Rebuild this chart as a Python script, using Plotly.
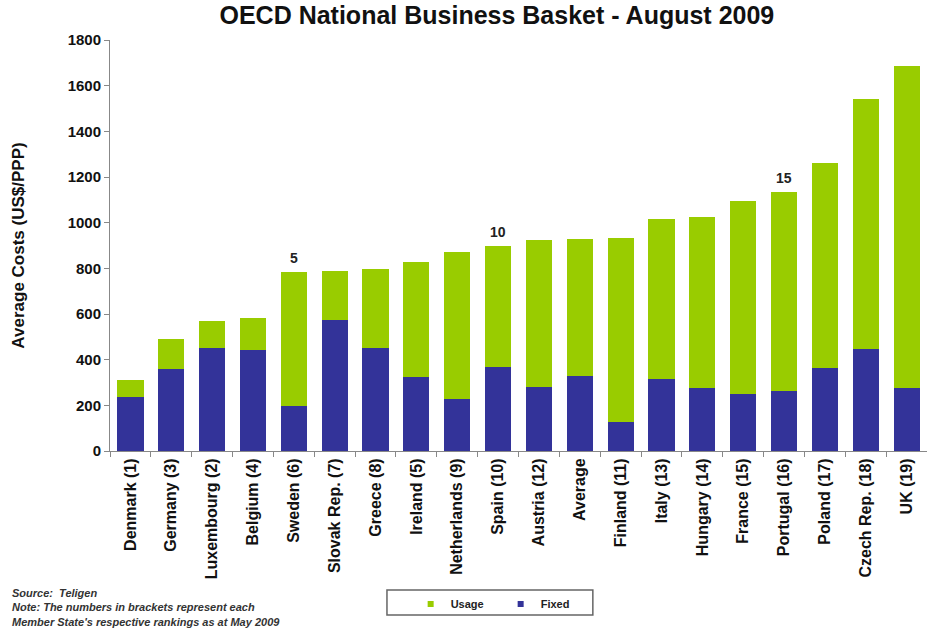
import plotly.graph_objects as go

# Country labels (ranking as at May 2009 in brackets)
countries = [
    "Denmark (1)", "Germany (3)", "Luxembourg (2)", "Belgium (4)", "Sweden (6)",
    "Slovak Rep. (7)", "Greece (8)", "Ireland (5)", "Netherlands (9)", "Spain (10)",
    "Austria (12)", "Average", "Finland (11)", "Italy (13)", "Hungary (14)",
    "France (15)", "Portugal (16)", "Poland (17)", "Czech Rep. (18)", "UK (19)",
]

# Fixed and total basket costs, US$/PPP
fixed = [235, 359, 452, 442, 197, 574, 452, 325, 228, 369,
         282, 328, 128, 315, 275, 251, 263, 365, 445, 277]
total = [311, 490, 571, 581, 785, 790, 796, 829, 870, 899,
         924, 927, 934, 1015, 1023, 1096, 1134, 1260, 1540, 1688]
usage = [t - f for t, f in zip(total, fixed)]

# Rank markers shown above selected bars
rank_marks = {"Sweden (6)": "5", "Spain (10)": "10", "Portugal (16)": "15"}

y_ticks = [0, 200, 400, 600, 800, 1000, 1200, 1400, 1600, 1800]

GREEN = "#99CC00"
BLUE = "#333399"
FONT = "Liberation Sans, Arial, sans-serif"

fig = go.Figure()
fig.add_trace(go.Bar(x=countries, y=fixed, name="Fixed", marker_color=BLUE,
                     marker_line_width=0, showlegend=False))
fig.add_trace(go.Bar(x=countries, y=usage, name="Usage", marker_color=GREEN,
                     marker_line_width=0, showlegend=False))

# Legend entries with small square keys
for name, col in [("Usage", GREEN), ("Fixed", BLUE)]:
    fig.add_trace(go.Scatter(x=[None], y=[None], mode="markers", name=name,
                             marker=dict(symbol="square", size=6, color=col)))

for c, label in rank_marks.items():
    i = countries.index(c)
    fig.add_annotation(x=c, y=total[i], text=label, showarrow=False,
                       yanchor="bottom", yshift=4,
                       font=dict(family=FONT, size=14, color="#222222",
                                 weight="bold"))

fig.add_annotation(
    xref="paper", yref="paper", x=-0.123, y=-0.327, xanchor="left", yanchor="top",
    align="left", showarrow=False,
    text=("<i>Source:  Teligen<br>"
          "Note: The numbers in brackets represent each<br>"
          "Member State's respective rankings as at May 2009</i>"),
    font=dict(family=FONT, size=11, color="#333333", weight="bold"),
)

# Legend frame
fig.add_shape(type="rect", xref="paper", yref="paper",
              x0=0.339, x1=0.591, y0=-0.399, y1=-0.338,
              line=dict(color="#666666", width=1.5), fillcolor="white", layer="below")

fig.update_layout(
    width=927, height=628,
    barmode="stack", bargap=0.36,
    paper_bgcolor="white", plot_bgcolor="white",
    margin=dict(l=110, r=0, t=40, b=177),
    title=dict(text="OECD National Business Basket - August 2009",
               x=0.536, xanchor="center", y=0.99, yanchor="top",
               font=dict(family=FONT, size=25, color="#111111", weight="bold")),
    font=dict(family=FONT, color="#111111"),
    legend=dict(orientation="h", traceorder="normal",
                x=0.368, y=-0.337, xanchor="left", yanchor="top",
                borderwidth=0, bgcolor="rgba(0,0,0,0)",
                entrywidth=45, entrywidthmode="pixels",
                font=dict(family=FONT, size=11, color="#222222", weight="bold"),
                itemwidth=30),
    showlegend=True,
)

fig.update_xaxes(
    tickangle=-90, tickson="boundaries", ticks="outside", ticklen=5,
    tickcolor="#888888", showline=True, linecolor="#888888", linewidth=1,
    tickfont=dict(family=FONT, size=16, color="#111111", weight="bold"),
)
fig.update_yaxes(
    range=[0, 1800], tickvals=y_ticks, ticks="outside", ticklen=5,
    tickcolor="#888888", showline=True, linecolor="#888888", linewidth=1,
    showgrid=False, zeroline=False,
    tickfont=dict(family=FONT, size=15, color="#111111", weight="bold"),
    title=dict(text="Average Costs (US$/PPP)", standoff=38,
               font=dict(family=FONT, size=17, color="#111111", weight="bold")),
)

fig.write_html("out.html")
